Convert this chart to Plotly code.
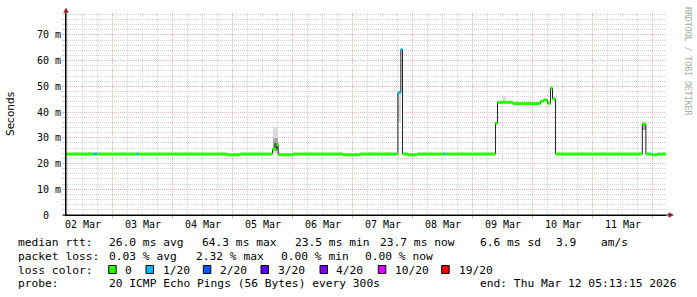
import plotly.graph_objects as go
from datetime import datetime

# ---------------- data ----------------
range_start = "2026-03-02 05:13:15"
range_end = "2026-03-12 05:13:15"

# median rtt (ms) as a step series: value holds from time i until time i+1
step_times = [
    "2026-03-02 05:13:15", "2026-03-02 16:15", "2026-03-02 17:35", "2026-03-03 09:20",
    "2026-03-03 10:00", "2026-03-04 21:35", "2026-03-05 02:55", "2026-03-05 15:50",
    "2026-03-05 17:20", "2026-03-05 18:05", "2026-03-06 00:05", "2026-03-06 20:05",
    "2026-03-07 02:55", "2026-03-07 18:00", "2026-03-07 19:10", "2026-03-07 19:50",
    "2026-03-07 22:05", "2026-03-08 01:45", "2026-03-08 12:15", "2026-03-08 13:00",
    "2026-03-09 09:00", "2026-03-09 09:50", "2026-03-09 16:00", "2026-03-10 03:00",
    "2026-03-10 04:15", "2026-03-10 05:50", "2026-03-10 07:00", "2026-03-10 07:50",
    "2026-03-10 09:00", "2026-03-11 19:45", "2026-03-11 21:10", "2026-03-11 23:35",
    "2026-03-12 01:50",
]
step_values = [
    23.7, 23.7, 23.7, 23.7,
    23.7, 23.4, 23.7, 25.5,
    27.2, 23.4, 23.7, 23.4,
    23.7, 47.6, 64.3, 23.7,
    23.4, 23.7, 23.7, 23.7,
    35.7, 43.8, 43.3, 44.2,
    44.7, 43.4, 49.3, 45.1,
    23.7, 35.4, 23.7, 23.4,
    23.7,
]
# loss bucket index (0 -> "0", 1 -> "1/20", ...)
step_loss = [
    0, 1, 0, 1,
    0, 0, 0, 0,
    0, 0, 0, 0,
    0, 1, 1, 0,
    0, 0, 1, 0,
    0, 0, 0, 0,
    0, 0, 0, 0,
    0, 0, 0, 0,
    0,
]

# smoke (spread of the 20 pings) in ms
smoke_t0 = ["2026-03-02 13:50", "2026-03-05 15:55", "2026-03-05 16:00", "2026-03-05 16:20",
            "2026-03-05 18:00", "2026-03-07 06:15", "2026-03-07 17:35", "2026-03-09 12:00",
            "2026-03-11 19:45"]
smoke_t1 = ["2026-03-02 15:10", "2026-03-05 17:55", "2026-03-05 17:55", "2026-03-05 17:50",
            "2026-03-05 18:55", "2026-03-07 07:10", "2026-03-07 19:10", "2026-03-09 13:10",
            "2026-03-11 21:10"]
smoke_lo = [23.7, 24.0, 25.0, 25.5, 23.7, 23.7, 36.0, 43.8, 33.0]
smoke_hi = [24.4, 34.3, 30.0, 28.0, 24.6, 24.4, 47.0, 46.3, 35.4]
smoke_level = [0, 0, 1, 2, 0, 0, 0, 0, 1]

loss_labels = ["0", "1/20", "2/20", "3/20", "4/20", "10/20", "19/20"]
loss_colors = ["#26ff00", "#00b8ff", "#0059ff", "#5e00ff", "#7e00ff", "#dd00ff", "#ff0000"]

y_ticks = [0, 10, 20, 30, 40, 50, 60, 70]
y_ticktext = ["0\u00a0\u00a0", "10 m", "20 m", "30 m", "40 m", "50 m", "60 m", "70 m"]

rtt_stats = ["26.0 ms avg", "64.3 ms max", "23.5 ms min", "23.7 ms now", "6.6 ms sd", "3.9", "am/s"]
loss_stats = ["0.03 % avg", "2.32 % max", "0.00 % min", "0.00 % now"]
probe_text = "20 ICMP Echo Pings (56 Bytes) every 300s"
end_text = "end: Thu Mar 12 05:13:15 2026"

# ---------------- layout constants ----------------
W, H = 697, 297
PL, PR, PT, PB = 66, 666, 13, 215  # plot area in pixels
MONO = "DejaVu Sans Mono"
MAJOR = "#efb0b0"
MINOR = "#d2d2d2"
ARROW = "#9b1c1c"


def px(xp):
    return (xp - PL) / (PR - PL)


def py(yp):
    return (PB - yp) / (PB - PT)


def to_dt(s):
    for f in ("%Y-%m-%d %H:%M:%S", "%Y-%m-%d %H:%M"):
        try:
            return datetime.strptime(s, f)
        except ValueError:
            pass


fig = go.Figure()

# smoke bars
shades = ["#dadada", "#a8a8a8", "#646464"]
for lvl in range(3):
    xs, ws, bs, hs = [], [], [], []
    for a, b, lo, hi, l in zip(smoke_t0, smoke_t1, smoke_lo, smoke_hi, smoke_level):
        if l != lvl:
            continue
        ta, tb = to_dt(a), to_dt(b)
        xs.append(ta + (tb - ta) / 2)
        ws.append((tb - ta).total_seconds() * 1000)
        bs.append(lo)
        hs.append(hi - lo)
    fig.add_trace(go.Bar(x=xs, y=hs, base=bs, width=ws, marker=dict(color=shades[lvl], line=dict(width=0)),
                         hoverinfo="skip", showlegend=False))

# black median line (step)
bx = step_times + [range_end]
by = step_values + [step_values[-1]]
fig.add_trace(go.Scatter(x=bx, y=by, mode="lines", line=dict(color="#202020", width=1, shape="hv"),
                         hoverinfo="skip", showlegend=False))

# loss-coloured horizontal pieces
for k, col in enumerate(loss_colors):
    xs, ys = [], []
    for i, (t, v, l) in enumerate(zip(step_times, step_values, step_loss)):
        if l != k:
            continue
        xs += [t, bx[i + 1], None]
        ys += [v, v, None]
    if xs:
        fig.add_trace(go.Scatter(x=xs, y=ys, mode="lines", line=dict(color=col, width=3),
                                 hoverinfo="skip", showlegend=False))

shapes = []
# axis extensions and arrows
shapes.append(dict(type="line", xref="paper", yref="paper", x0=px(62.5), x1=px(669), y0=0, y1=0,
                   line=dict(color="#000000", width=1)))
shapes.append(dict(type="line", xref="paper", yref="paper", x0=0, x1=0, y0=py(216), y1=py(12.5),
                   line=dict(color="#000000", width=1)))
shapes.append(dict(type="path", xref="paper", yref="paper",
                   path=f"M {px(668.5)},{py(212.3)} L {px(674)},{py(215)} L {px(668.5)},{py(217.7)} Z",
                   fillcolor=ARROW, line=dict(color=ARROW, width=0)))
shapes.append(dict(type="path", xref="paper", yref="paper",
                   path=f"M {px(63.3)},{py(12.7)} L {px(66)},{py(7.5)} L {px(68.7)},{py(12.7)} Z",
                   fillcolor=ARROW, line=dict(color=ARROW, width=0)))

annotations = []
# y axis title
annotations.append(dict(text="Seconds", xref="paper", yref="paper", x=px(10), y=0.5, textangle=-90,
                        showarrow=False, xanchor="center", yanchor="middle",
                        font=dict(family="DejaVu Sans", size=10.5, color="#000000")))
# watermark
annotations.append(dict(text="RRDTOOL / TOBI OETIKER", xref="paper", yref="paper", x=px(687.5), y=py(5),
                        textangle=90, showarrow=False, xanchor="center", yanchor="top",
                        font=dict(family=MONO, size=8.2, color="#a8a8a8")))

LF = dict(family=MONO, size=11.25, color="#000000")


def txt(s, x, y):
    annotations.append(dict(text=s, xref="paper", yref="paper", x=px(x), y=py(y), showarrow=False,
                            xanchor="left", yanchor="middle", font=LF))


# line 1
L1, L2, L3, L4 = 242.8, 256.1, 270.4, 283.8
txt("median rtt:", 16, L1)
for s, x in zip(rtt_stats, [107.3, 200, 293.3, 378.3, 478.3, 554, 599.3]):
    txt(s, x, L1)
# line 2
txt("packet loss:", 16, L2)
for s, x in zip(loss_stats, [107.3, 194, 279.3, 363.3]):
    txt(s, x, L2)
# line 3
txt("loss color:", 16, L3)
box_x = [108.7, 146, 203.3, 261, 320, 378.3, 441.7]
lab_x = [123.3, 160.7, 218.3, 276, 334.3, 393.3, 457.3]
for lab, col, bxp, lxp in zip(loss_labels, loss_colors, box_x, lab_x):
    shapes.append(dict(type="rect", xref="paper", yref="paper", x0=px(bxp), x1=px(bxp + 7.5),
                       y0=py(265.5), y1=py(273.5), fillcolor=col, line=dict(color="#000000", width=1)))
    txt(lab, lxp, L3)
# line 4
txt("probe:", 16, L4)
txt(probe_text, 107.3, L4)
txt(end_text, 478.3, L4)

fig.update_layout(
    width=W, height=H,
    margin=dict(l=PL, r=W - PR, t=PT, b=H - PB, pad=0),
    paper_bgcolor="#ffffff", plot_bgcolor="#ffffff",
    barmode="overlay", bargap=0,
    shapes=shapes, annotations=annotations,
    showlegend=False,
    xaxis=dict(
        type="date", range=[range_start, range_end],
        tick0="2026-03-02", dtick=86400000, ticklabelmode="period", tickformat="%d %b",
        showgrid=True, gridcolor=MAJOR, griddash="1px,1px", gridwidth=1,
        ticks="outside", ticklen=3, tickcolor=MAJOR, ticklabelstandoff=-3,
        minor=dict(dtick=21600000, tick0="2026-03-02", showgrid=True, gridcolor=MINOR, griddash="1px,1px",
                   ticks=""),
        showline=True, linecolor="#000000", linewidth=1, zeroline=False,
        tickfont=dict(family=MONO, size=10, color="#000000"),
        fixedrange=True,
    ),
    yaxis=dict(
        range=[0, 78.5], tickvals=y_ticks, ticktext=y_ticktext,
        showgrid=True, gridcolor=MAJOR, griddash="1px,1px", gridwidth=1,
        ticks="outside", ticklen=3, tickcolor=MAJOR, ticklabelstandoff=-1,
        minor=dict(dtick=2, tick0=0, showgrid=True, gridcolor=MINOR, griddash="1px,1px",
                   ticks="outside", ticklen=3, tickcolor=MINOR),
        showline=True, linecolor="#000000", linewidth=1, zeroline=False,
        tickfont=dict(family=MONO, size=10, color="#000000"),
        fixedrange=True,
    ),
)

fig.write_html("out.html")
